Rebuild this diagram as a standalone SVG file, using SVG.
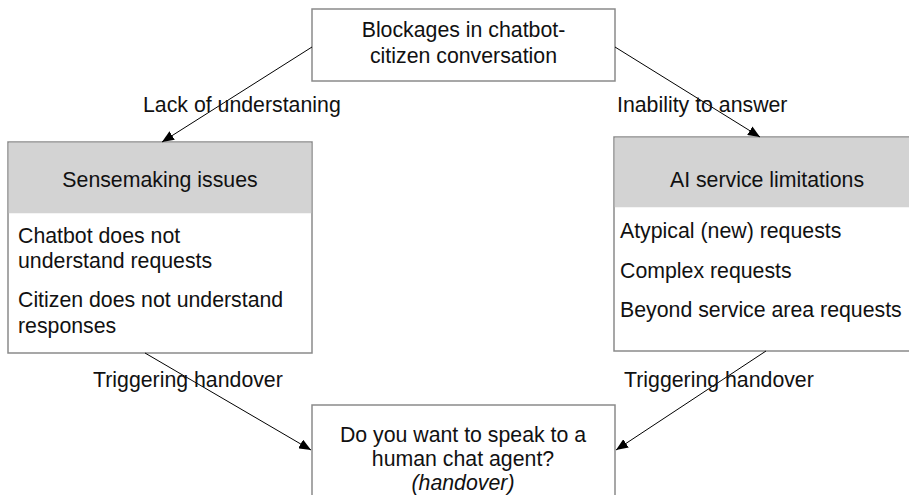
<svg xmlns="http://www.w3.org/2000/svg" width="909" height="495" viewBox="0 0 909 495">
<style>
  .box { fill: #ffffff; stroke: #8a8a8a; stroke-width: 1.5; }
  .hdr { fill: #d3d3d3; stroke: none; }
  .t { font-family: "Liberation Sans", Arial, sans-serif; font-size: 21.3px; fill: #111111; }
  .c { text-anchor: middle; }
  .i { font-style: italic; }
  .conn { stroke: #000000; stroke-width: 1; fill: none; marker-end: url(#arr); }
</style>
<defs>
  <marker id="arr" viewBox="0 0 12 10" refX="12" refY="5" markerWidth="12" markerHeight="10" markerUnits="userSpaceOnUse" orient="auto">
    <path d="M0,0 L12,5 L0,10 Z" fill="#000000"/>
  </marker>
</defs>
<rect x="0" y="0" width="909" height="495" fill="#ffffff"/>

<g id="top">
  <rect class="box" x="312" y="9" width="303" height="72"/>
  <text class="t c" x="463.5" y="37">Blockages in chatbot-</text>
  <text class="t c" x="463.5" y="63">citizen conversation</text>
</g>

<g id="sensemaking">
  <rect class="box" x="8" y="142" width="304" height="211"/>
  <rect class="hdr" x="8.75" y="142.75" width="302.5" height="70.5"/>
  <text class="t c" x="160" y="187">Sensemaking issues</text>
  <text class="t" x="18" y="243">Chatbot does not</text>
  <text class="t" x="18" y="268">understand requests</text>
  <text class="t" x="18" y="307">Citizen does not understand</text>
  <text class="t" x="18" y="333">responses</text>
</g>

<g id="limitations">
  <rect class="box" x="614" y="137" width="306" height="214"/>
  <rect class="hdr" x="614.75" y="137.75" width="304" height="69.5"/>
  <text class="t c" x="767" y="187">AI service limitations</text>
  <text class="t" x="620" y="238">Atypical (new) requests</text>
  <text class="t" x="620" y="278">Complex requests</text>
  <text class="t" x="620" y="317">Beyond service area requests</text>
</g>

<g id="handover">
  <rect class="box" x="312" y="405" width="303" height="100"/>
  <text class="t c" x="463" y="442">Do you want to speak to a</text>
  <text class="t c" x="463" y="466">human chat agent?</text>
  <text class="t c i" x="463" y="490">(handover)</text>
</g>

<g id="connectors">
  <line class="conn" x1="312" y1="47" x2="162" y2="142"/>
  <line class="conn" x1="615" y1="47" x2="760" y2="137"/>
  <line class="conn" x1="145" y1="353" x2="311" y2="450"/>
  <line class="conn" x1="766" y1="351" x2="616" y2="450"/>
  <text class="t" x="143" y="112">Lack of understaning</text>
  <text class="t" x="617" y="112">Inability to answer</text>
  <text class="t" x="93" y="387">Triggering handover</text>
  <text class="t" x="624" y="387">Triggering handover</text>
</g>
</svg>
